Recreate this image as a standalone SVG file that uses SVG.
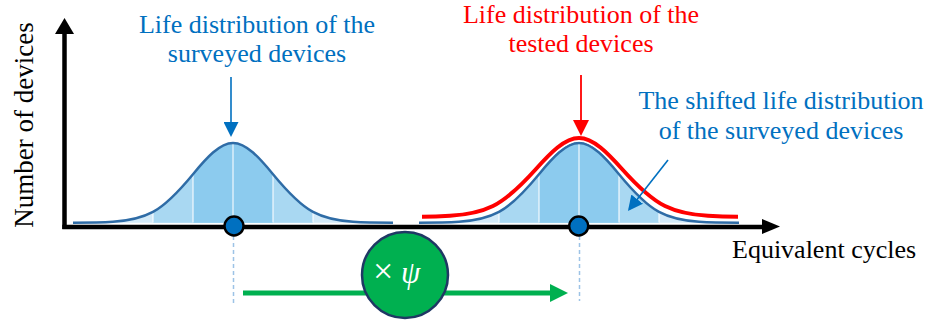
<svg xmlns="http://www.w3.org/2000/svg" xmlns:xlink="http://www.w3.org/1999/xlink" width="932" height="322" viewBox="0 0 932 322">
<style>
.lbl{font-family:"Liberation Serif","Times New Roman",serif;font-size:26px}
.blue{fill:#0070c0}
.red{fill:#ff0000}
.ax{stroke:#000;stroke-width:4.5;fill:none}
.curve{fill:none;stroke:#2f6ca6;stroke-width:2.5;stroke-linejoin:round}
.sep{stroke:#ffffff;stroke-opacity:0.7;stroke-width:1.5}
.dash{stroke:#9dc3e6;stroke-width:1.5;stroke-dasharray:4 3;fill:none}
.dot{fill:#0070c0;stroke:#000;stroke-width:2.4}
</style>
<defs>
<path id="shape" d="M73,222.7 C86.33,222.7 99.67,222.69 113,221.8 C126.33,220.91 139.67,219.12 153,211.9 C166.33,204.68 179.67,190.37 193,174.2 C206.33,158.03 219.67,143 233,143 C246.33,143 259.67,158.03 273,174.2 C286.33,190.37 299.67,204.68 313,211.9 C326.33,219.12 339.67,220.91 353,221.8 C366.33,222.69 379.67,222.7 393,222.7"/>
<path id="area" d="M73,222.7 C86.33,222.7 99.67,222.69 113,221.8 C126.33,220.91 139.67,219.12 153,211.9 C166.33,204.68 179.67,190.37 193,174.2 C206.33,158.03 219.67,143 233,143 C246.33,143 259.67,158.03 273,174.2 C286.33,190.37 299.67,204.68 313,211.9 C326.33,219.12 339.67,220.91 353,221.8 C366.33,222.69 379.67,222.7 393,222.7 Z"/>
<clipPath id="band2" clipPathUnits="userSpaceOnUse"><rect x="153" y="100" width="160" height="130"/></clipPath>
<clipPath id="band3" clipPathUnits="userSpaceOnUse"><rect x="193" y="100" width="80" height="130"/></clipPath>
<g id="bell">
<use xlink:href="#area" fill="#d3eaf8"/>
<use xlink:href="#area" fill="#a9d8f2" clip-path="url(#band2)"/>
<use xlink:href="#area" fill="#8ccbee" clip-path="url(#band3)"/>
<line class="sep" x1="153" y1="212.5" x2="153" y2="222.5"/>
<line class="sep" x1="193" y1="175" x2="193" y2="222.5"/>
<line class="sep" x1="233" y1="144" x2="233" y2="222.5"/>
<line class="sep" x1="273" y1="175" x2="273" y2="222.5"/>
<line class="sep" x1="313" y1="212.5" x2="313" y2="222.5"/>
<use xlink:href="#shape" class="curve"/>
</g>
<marker id="headBlue" markerUnits="userSpaceOnUse" viewBox="0 0 15 15" refX="13" refY="7.5" markerWidth="15" markerHeight="15" orient="auto"><path d="M0,0 L15,7.5 L0,15 Z" fill="#0070c0"/></marker>
<marker id="headRed" markerUnits="userSpaceOnUse" viewBox="0 0 16 16" refX="14" refY="8" markerWidth="16" markerHeight="16" orient="auto"><path d="M0,0 L16,8 L0,16 Z" fill="#ff0000"/></marker>
</defs>
<rect width="932" height="322" fill="#ffffff"/>

<g id="curve-surveyed">
<use xlink:href="#bell"/>
</g>
<g id="curve-shifted">
<use xlink:href="#bell" transform="translate(346,0)"/>
</g>
<g id="curve-tested">
<path d="M422,216.7 C431,216.7 440,216.44 450,215.83 C464.33,214.96 478.67,213.15 493,206.05 C507.33,198.95 521.67,184.88 536,168.97 C550.33,153.06 564.67,138 579,138 C593.33,138 607.67,153.06 622,168.97 C636.33,184.88 650.67,198.95 665,206.05 C679.33,213.15 693.67,214.96 708,215.83 C718,216.44 728,216.7 738,216.7" fill="none" stroke="#ffffff" stroke-width="6.5" stroke-linejoin="round"/>
<path d="M422,216.7 C431,216.7 440,216.44 450,215.83 C464.33,214.96 478.67,213.15 493,206.05 C507.33,198.95 521.67,184.88 536,168.97 C550.33,153.06 564.67,138 579,138 C593.33,138 607.67,153.06 622,168.97 C636.33,184.88 650.67,198.95 665,206.05 C679.33,213.15 693.67,214.96 708,215.83 C718,216.44 728,216.7 738,216.7" fill="none" stroke="#ff0000" stroke-width="4" stroke-linejoin="round"/>
</g>

<g id="connectors">
<line class="dash" x1="233.5" y1="236" x2="233.5" y2="303"/>
<line class="dash" x1="579.5" y1="236" x2="579.5" y2="301"/>
<line x1="231" y1="77" x2="231" y2="135" stroke="#0070c0" stroke-width="1.6" marker-end="url(#headBlue)"/>
<line x1="581" y1="75" x2="581" y2="134" stroke="#ff0000" stroke-width="1.8" marker-end="url(#headRed)"/>
<line x1="668" y1="160" x2="629.2" y2="209.4" stroke="#0070c0" stroke-width="1.6" marker-end="url(#headBlue)"/>
<line x1="243" y1="293" x2="552" y2="293" stroke="#00b050" stroke-width="5"/>
<polygon points="550,284 568,293 550,302" fill="#00b050"/>
</g>

<g id="axes">
<line class="ax" x1="64.5" y1="229" x2="64.5" y2="32"/>
<polygon points="55,34 74,34 64.5,18" fill="#000"/>
<line class="ax" x1="62.3" y1="227" x2="764" y2="227"/>
<polygon points="762,219 780,226.5 762,234" fill="#000"/>
<text class="lbl" transform="translate(33,125) rotate(-90)" text-anchor="middle" style="font-size:27px" fill="#000">Number of devices</text>
<text class="lbl" x="732" y="258" fill="#000">Equivalent cycles</text>
</g>

<g id="marker-left"><circle class="dot" cx="234" cy="226" r="9.5"/></g>
<g id="marker-right"><circle class="dot" cx="578.7" cy="226" r="9.5"/></g>

<g id="label-surveyed">
<text class="lbl blue" x="257" y="33" text-anchor="middle">Life distribution of the</text>
<text class="lbl blue" x="257" y="62" text-anchor="middle">surveyed devices</text>
</g>
<g id="label-tested">
<text class="lbl red" x="581" y="23" text-anchor="middle">Life distribution of the</text>
<text class="lbl red" x="581" y="52" text-anchor="middle">tested devices</text>
</g>
<g id="label-shifted">
<text class="lbl blue" x="781" y="109" text-anchor="middle">The shifted life distribution</text>
<text class="lbl blue" x="781" y="139" text-anchor="middle">of the surveyed devices</text>
</g>

<g id="factor-node">
<circle cx="405" cy="275" r="43" fill="#00b050" stroke="#1f3864" stroke-width="2.5"/>
<text class="lbl" x="373" y="283" fill="#ffffff" style="font-size:31px"><tspan style="font-size:36px">×</tspan> <tspan font-style="italic">ψ</tspan></text>
</g>
</svg>
